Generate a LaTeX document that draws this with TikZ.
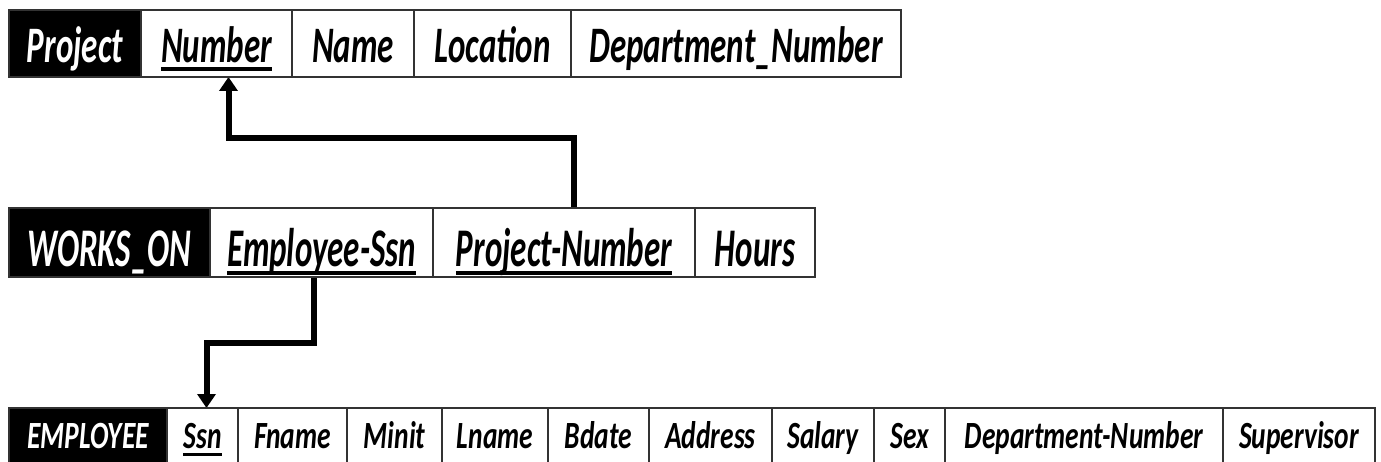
\documentclass[tikz,border=0pt]{standalone}
\usepackage{fontspec}
\setmainfont{Carlito}
\usetikzlibrary{arrows.meta}
\pgfdeclarelayer{edgelayer}
\pgfdeclarelayer{nodelayer}
\pgfsetlayers{edgelayer,nodelayer,main}
\newcommand{\pkey}[1]{\setbox0=\hbox{#1}\rlap{\rule[-5.6pt]{\wd0}{2.4pt}}\box0}
\tikzstyle{attr}=[draw=black!80, line width=1.4pt, fill=white, text=black, inner sep=0pt, outer sep=0pt]
\tikzstyle{relname}=[attr, fill=black, text=white]
\tikzstyle{rowone}=[yscale=1.55, minimum height=43.2pt, text height=24pt, text depth=0pt, font=\fontsize{33}{36}\selectfont\bfseries\itshape]
\tikzstyle{rowtwo}=[yscale=1.65, minimum height=41.8pt, text height=28.6pt, text depth=0pt, font=\fontsize{33}{36}\selectfont\bfseries\itshape]
\tikzstyle{rowthree}=[yscale=1.4, minimum height=40pt, text height=18pt, text depth=0pt, font=\fontsize{27.5}{30}\selectfont\bfseries\itshape]
\tikzstyle{fkedge}=[draw=black, line width=6pt, -{Triangle[width=18pt,length=14pt]}]

\begin{document}
\begin{tikzpicture}[x=1pt, y=-1pt]
	\useasboundingbox (0,0) rectangle (1381,462);
	\begin{pgfonlayer}{nodelayer}
		% Project
		\node [style=relname, style=rowone, minimum width=132pt] (p1) at (75, 43.5) {Project};
		\node [style=attr, style=rowone, minimum width=151pt] (p2) at (216.5, 43.5) {\pkey{Number}};
		\node [style=attr, style=rowone, minimum width=122pt] (p3) at (353, 43.5) {Name};
		\node [style=attr, style=rowone, minimum width=157pt] (p4) at (492.5, 43.5) {Location};
		\node [style=attr, style=rowone, minimum width=330pt] (p5) at (736, 43.5) {Department\_Number};
		% WORKS_ON
		\node [style=relname, style=rowtwo, minimum width=201pt] (w1) at (109.5, 242.5) {WORKS\_ON};
		\node [style=attr, style=rowtwo, minimum width=223pt] (w2) at (321.5, 242.5) {\pkey{Employee-Ssn}};
		\node [style=attr, style=rowtwo, minimum width=262pt] (w3) at (564, 242.5) {\pkey{Project-Number}};
		\node [style=attr, style=rowtwo, minimum width=120pt] (w4) at (755, 242.5) {Hours};
		% EMPLOYEE
		\node [style=relname, style=rowthree, minimum width=158pt] (e1) at (88, 436) {EMPLOYEE};
		\node [style=attr, style=rowthree, minimum width=71pt] (e2) at (202.5, 436) {\pkey{Ssn}};
		\node [style=attr, style=rowthree, minimum width=109pt] (e3) at (292.5, 436) {Fname};
		\node [style=attr, style=rowthree, minimum width=95pt] (e4) at (394.5, 436) {Minit};
		\node [style=attr, style=rowthree, minimum width=106pt] (e5) at (495, 436) {Lname};
		\node [style=attr, style=rowthree, minimum width=101pt] (e6) at (598.5, 436) {Bdate};
		\node [style=attr, style=rowthree, minimum width=123pt] (e7) at (710.5, 436) {Address};
		\node [style=attr, style=rowthree, minimum width=102pt] (e8) at (823, 436) {Salary};
		\node [style=attr, style=rowthree, minimum width=71pt] (e9) at (909.5, 436) {Sex};
		\node [style=attr, style=rowthree, minimum width=278pt] (e10) at (1084, 436) {Department-Number};
		\node [style=attr, style=rowthree, minimum width=152pt] (e11) at (1299, 436) {Supervisor};
	\end{pgfonlayer}
	\begin{pgfonlayer}{edgelayer}
		\draw [style=fkedge] ([xshift=10pt]w3.north) -- ++(0,-70) -| ([xshift=12pt]p2.south);
		\draw [style=fkedge] ([xshift=-8pt]w2.south) -- ++(0,66) -| ([xshift=4pt]e2.north);
	\end{pgfonlayer}
\end{tikzpicture}
\end{document}
